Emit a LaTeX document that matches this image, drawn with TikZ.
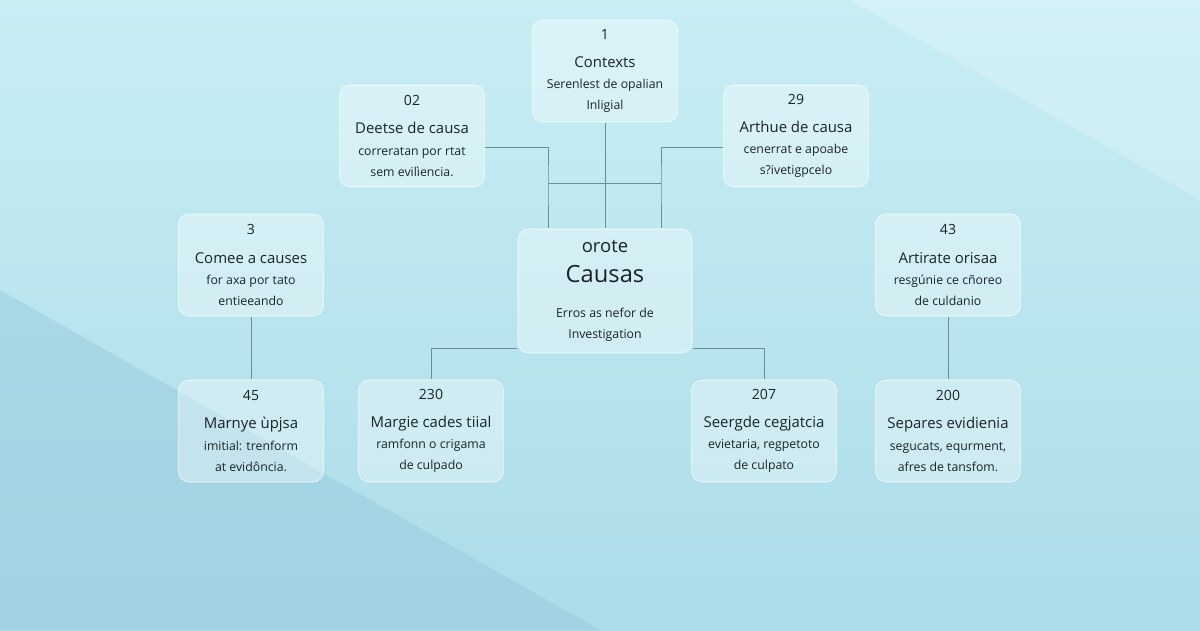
\documentclass[tikz,border=0pt]{standalone}
\usepackage{fontspec}
\setmainfont{Open Sans}
\usetikzlibrary{positioning}
\definecolor{bgtop}{HTML}{C8EEF4}
\definecolor{bgbot}{HTML}{ABDCE8}
\definecolor{bgband}{HTML}{94C8DC}
\definecolor{linkgray}{HTML}{6A8E98}
\definecolor{inktext}{HTML}{1A2428}
\tikzset{
    card/.style={
           rectangle,
           rounded corners=6pt,
           draw=white, draw opacity=0.5, line width=0.6pt,
           fill=white, fill opacity=0.35, text opacity=1,
           text=inktext,
           minimum width=2.9cm,
           minimum height=2.04cm,
           inner sep=2pt,
           align=center
           },
    link/.style={draw=linkgray, line width=0.5pt},
}
\newcommand{\numsz}{\fontsize{8}{10}\selectfont}
\newcommand{\titsz}{\fontsize{8.5}{10.5}\selectfont}
\newcommand{\subsz}{\fontsize{7}{9.5}\selectfont}

\begin{document}
\begin{tikzpicture}[x=0.02cm,y=-0.02cm]
            % background
            \shade[top color=bgtop, bottom color=bgbot] (0,0) rectangle (1200,630);
            \fill[white, opacity=0.2] (850,0) -- (1200,0) -- (1200,200) -- cycle;
            \fill[bgband, opacity=0.45] (0,290) -- (0,630) -- (600,630) -- cycle;
            \useasboundingbox (0,0) rectangle (1200,630);

             \node[card] (CTX) at (605,71)
              {\numsz 1\\[4pt]\titsz Contexts\\\subsz Serenlest de opalian\\\subsz Inligial};
             \node[card] (DEF) at (412,136)
              {\numsz 02\\[4pt]\titsz Deetse de causa\\\subsz correratan por rtat\\\subsz sem evilìencia.};
             \node[card] (ART) at (796,136)
              {\numsz 29\\[4pt]\titsz Arthue de causa\\\subsz cenerrat e apoabe\\\subsz s?ivetigpcelo};
             \node[card] (COM) at (251,265)
              {\numsz 3\\[4pt]\titsz Comee a causes\\\subsz for axa por tato\\\subsz entieeando};
             \node[card, minimum width=3.48cm, minimum height=2.48cm] (CAU) at (605,291)
              {\fontsize{10.5}{12}\selectfont orote\\[5pt]\fontsize{13.5}{16}\selectfont Causas\\[8pt]\subsz Erros as nefor de\\\subsz Investigation};
             \node[card] (ORI) at (948,265)
              {\numsz 43\\[4pt]\titsz Artirate orisaa\\\subsz resgúnie ce cñoreo\\\subsz de culdanio};
             \node[card] (MAR) at (251,431)
              {\numsz 45\\[4pt]\titsz Marnye ùpjsa\\\subsz imitial: trenform\\\subsz at evidôncia.};
             \node[card] (MCI) at (431,431)
              {\numsz 230\\[4pt]\titsz Margie cades tiial\\\subsz ramfonn o crigama\\\subsz de culpado};
             \node[card] (SEC) at (764,431)
              {\numsz 207\\[4pt]\titsz Seergde cegjatcia\\\subsz evietaria, regpetoto\\\subsz de culpato};
             \node[card] (SEP) at (948,431)
              {\numsz 200\\[4pt]\titsz Separes evidienia\\\subsz segucats, equrment,\\\subsz afres de tansfom.};

            % connectors
            \coordinate (jl) at (548,183);
            \coordinate (jr) at (661,183);
            \draw[link] (CTX.south) -- (CAU.north);
            \draw[link] (DEF.east |- jl) ++(0,-36) -| (jl) -- (jl |- CAU.north);
            \draw[link] (ART.west |- jr) ++(0,-36) -| (jr) -- (jr |- CAU.north);
            \draw[link] (jl) -- (jr);
            \draw[link] (CAU.west) ++(0,57) -| (MCI.north);
            \draw[link] (CAU.east) ++(0,57) -| (SEC.north);
            \draw[link] (COM.south) -- (MAR.north);
            \draw[link] (ORI.south) -- (SEP.north);
\end{tikzpicture}
\end{document}
